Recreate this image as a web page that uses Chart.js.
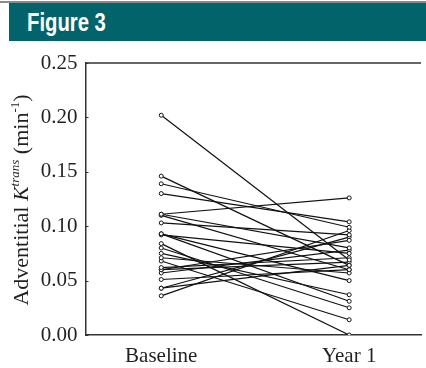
<!DOCTYPE html>
<html>
<head>
<meta charset="utf-8">
<script src="https://cdn.jsdelivr.net/npm/chart.js@4/dist/chart.umd.min.js"></script>
<style>
    html, body { margin: 0; padding: 0; background: #fff; }
    #wrap { position: relative; width: 426px; height: 368px; overflow: hidden; }
    #topline { position: absolute; left: 0; top: 1px; width: 426px; height: 2px; background: #8a8a8a; }
    #header {
        position: absolute; left: 9px; top: 3px; width: 417px; height: 38px;
        background: #03636b; color: #fff;
        font-family: "Liberation Sans", Arial, sans-serif;
        font-weight: bold; font-size: 26px; line-height: 38px;
        padding-left: 18px; box-sizing: border-box;
    }
    #header span { display: inline-block; transform: scaleX(0.78); transform-origin: left center; }
    #chart { position: absolute; left: 0; top: 0; }
</style>
</head>
<body>
<div id="wrap">
    <canvas id="chart" width="426" height="368"></canvas>
    <div id="topline"></div>
    <div id="header"><span>Figure 3</span></div>
</div>
<script>
const categories = ['Baseline', 'Year 1'];
const yTicks = [0, 0.05, 0.10, 0.15, 0.20, 0.25];

// one entry per subject: baseline value and year-1 value
const baseline = [0.202, 0.146, 0.139, 0.130, 0.111, 0.111, 0.110, 0.103, 0.093, 0.093,
    0.092, 0.084, 0.080, 0.075, 0.071, 0.068, 0.062, 0.060, 0.060, 0.057,
    0.051, 0.043, 0.043, 0.036];
const year1 = [0.069, 0.064, 0.099, 0.104, 0.126, 0.080, 0.060, 0.092, 0.050, 0.031,
    0.075, 0.000, 0.025, 0.037, 0.057, 0.014, 0.071, 0.067, 0.087, 0.078,
    0.060, 0.090, 0.064, 0.096];

const SERIF = '"Liberation Serif", "Times New Roman", serif';

const datasets = baseline.map((b, i) => ({
    data: [{ x: 0, y: b }, { x: 1, y: year1[i] }],
    borderColor: '#111',
    borderWidth: 1.2,
    pointRadius: 2,
    pointBorderWidth: 1,
    pointBackgroundColor: '#fff',
    pointBorderColor: '#111',
    showLine: true
}));

const framePlugin = {
    id: 'frame',
    afterDraw(chart) {
        const { ctx, chartArea, scales } = chart;
        ctx.save();
        ctx.strokeStyle = '#333';
        ctx.lineWidth = 1.5;
        ctx.beginPath();
        ctx.moveTo(chartArea.left, chartArea.top);
        ctx.lineTo(chartArea.right, chartArea.top);
        ctx.stroke();

        // inward tick marks
        ctx.lineWidth = 1;
        yTicks.forEach(v => {
            const y = Math.round(scales.y.getPixelForValue(v)) + 0.5;
            ctx.beginPath();
            ctx.moveTo(chartArea.left, y);
            ctx.lineTo(chartArea.left + 3, y);
            ctx.stroke();
        });

        // y axis title with italic K and superscripts
        const parts = [
            { t: 'Adventitial ', f: '22px ' + SERIF, dy: 0 },
            { t: 'K', f: 'italic 22px ' + SERIF, dy: 0 },
            { t: 'trans', f: 'italic 13px ' + SERIF, dy: -9 },
            { t: ' (min', f: '22px ' + SERIF, dy: 0 },
            { t: '-1', f: '13px ' + SERIF, dy: -9 },
            { t: ')', f: '22px ' + SERIF, dy: 0 }
        ];
        let total = 0;
        parts.forEach(p => { ctx.font = p.f; p.w = ctx.measureText(p.t).width; total += p.w; });
        ctx.translate(28, (chartArea.top + chartArea.bottom) / 2 + 1);
        ctx.rotate(-Math.PI / 2);
        ctx.fillStyle = '#231f20';
        ctx.textBaseline = 'alphabetic';
        let x = -total / 2;
        parts.forEach(p => {
            ctx.font = p.f;
            ctx.fillText(p.t, x, p.dy);
            x += p.w;
        });
        ctx.restore();
    }
};

new Chart(document.getElementById('chart'), {
    type: 'scatter',
    data: { datasets },
    options: {
        responsive: false,
        animation: false,
        layout: { padding: { top: 63, right: 0, left: 0, bottom: 0 } },
        plugins: { legend: { display: false }, tooltip: { enabled: false } },
        scales: {
            x: {
                type: 'linear',
                min: -0.403,
                max: 1.382,
                afterBuildTicks(scale) {
                    scale.ticks = [{ value: 0 }, { value: 1 }];
                },
                afterFit(scale) { scale.height = 33; },
                ticks: {
                    color: '#231f20',
                    font: { family: SERIF, size: 21 },
                    padding: 9,
                    maxRotation: 0,
                    callback: (v) => categories[v] ?? ''
                },
                grid: { display: false, drawTicks: false },
                border: { display: true, color: '#333', width: 1.5 }
            },
            y: {
                min: 0,
                max: 0.25,
                afterBuildTicks(scale) {
                    scale.ticks = yTicks.map(v => ({ value: v }));
                },
                afterFit(scale) { scale.width = 85.5; },
                ticks: {
                    color: '#231f20',
                    font: { family: SERIF, size: 21 },
                    padding: 8,
                    callback: (v) => v.toFixed(2)
                },
                grid: { display: false, drawTicks: false },
                border: { display: true, color: '#333', width: 1.5 }
            }
        }
    },
    plugins: [framePlugin]
});
</script>
</body>
</html>
